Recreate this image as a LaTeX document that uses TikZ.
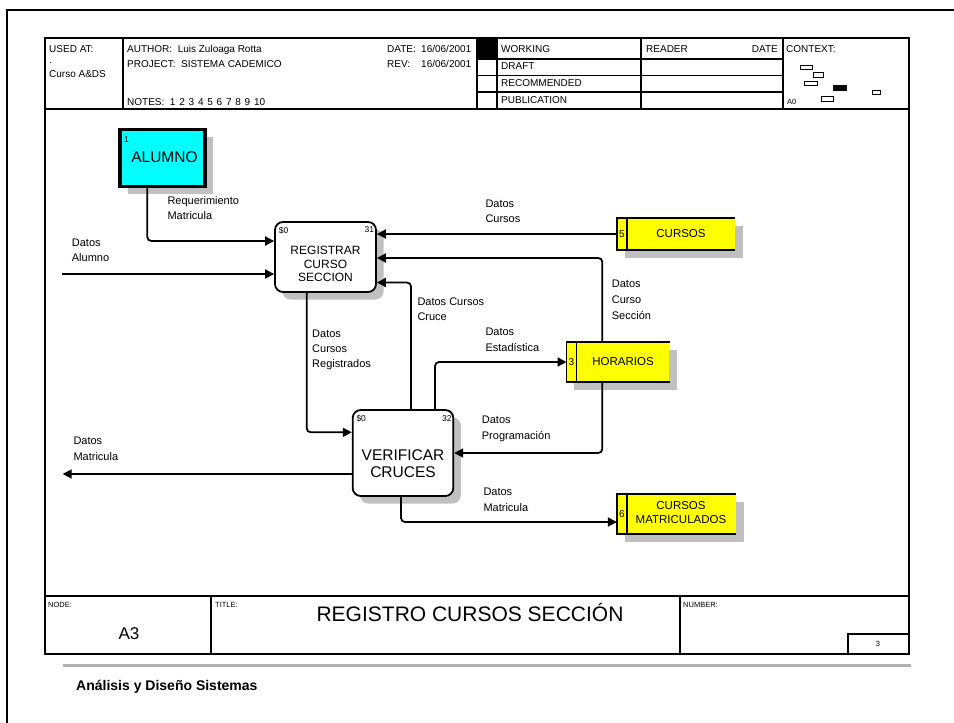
\documentclass[tikz,border=0pt]{standalone}
\usepackage{fontspec}
\setmainfont{Liberation Sans}
\usetikzlibrary{arrows.meta,shadows}
\definecolor{shadowgray}{HTML}{C0C0C0}
\definecolor{footgray}{HTML}{B0B0B0}
\definecolor{extcyan}{HTML}{00FFFF}
\definecolor{storeyellow}{HTML}{FFFF00}
\begin{document}
\begin{tikzpicture}[x=1pt,y=-1pt,
  frm/.style={line width=1.6pt},
  hdr/.style={anchor=base west,inner sep=0pt,font=\fontsize{10}{11}\selectfont},
  tiny/.style={inner sep=0pt,font=\fontsize{7.5}{8}\selectfont},
  corner/.style={inner sep=0pt,font=\fontsize{8.5}{9}\selectfont},
  lbl/.style={anchor=north west,inner sep=0pt,align=left,font=\fontsize{11}{15.5}\selectfont},
  shad/.style={drop shadow={shadow xshift=7.5pt,shadow yshift=-7.5pt,fill=shadowgray,opacity=1}},
  proc/.style={draw,line width=1.8pt,rounded corners=8pt,fill=white,shad},
  ext/.style={draw,line width=3.2pt,fill=extcyan,shad},
  store/.style={fill=storeyellow,inner sep=0pt,shad},
  storeline/.style={line width=1.8pt},
  sname/.style={inner sep=0pt,align=center,font=\fontsize{11.5}{13.4}\selectfont},
  snum/.style={inner sep=0pt,font=\fontsize{10}{12}\selectfont},
  flow/.style={line width=1.8pt,rounded corners=4pt,-{Triangle[length=9pt,width=9pt]}},
]
\useasboundingbox (0,0) rectangle (954,723);

% page frame
\draw[frm] (7,723) -- (7,10) -- (954,10);
\draw[frm] (45,38) rectangle (909,654);

% header block
\draw[frm] (45,109) -- (909,109);
\draw[frm] (123,38) -- (123,109);
\draw[frm] (477,38) -- (477,109);
\draw[frm] (497,38) -- (497,109);
\draw[frm] (641,38) -- (641,109);
\draw[frm] (783,38) -- (783,109);
\draw[frm] (477,59) -- (783,59);
\draw[frm] (477,75.5) -- (783,75.5);
\draw[frm] (477,92) -- (783,92);
\fill (477,38) rectangle (497,59);

\node[hdr] (usedat) at (49,52.3) {USED AT:};
\node[hdr] (dot) at (49,63) {.};
\node[hdr] (cursoad) at (49,77.7) {Curso A\&DS};
\node[hdr] (author) at (127,52.3) {AUTHOR:\ \ Luis Zuloaga Rotta};
\node[hdr] (project) at (127,67.7) {PROJECT:\ \ SISTEMA CADEMICO};
\node[hdr] (notes) at (127,105) {NOTES:\ \ 1\hspace{1pt} 2\hspace{1pt} 3\hspace{1pt} 4\hspace{1pt} 5\hspace{1pt} 6\hspace{1pt} 7\hspace{1pt} 8\hspace{1pt} 9\hspace{1pt} 10};
\node[hdr] (date) at (387,52.3) {DATE:};
\node[hdr] (dateval) at (421,52.3) {16/06/2001};
\node[hdr] (rev) at (387,67.7) {REV:};
\node[hdr] (revval) at (421,67.7) {16/06/2001};
\node[hdr] (working) at (501,52.7) {WORKING};
\node[hdr] (draft) at (501,69) {DRAFT};
\node[hdr] (recom) at (501,86) {RECOMMENDED};
\node[hdr] (public) at (501,103.3) {PUBLICATION};
\node[hdr] (reader) at (646,52.7) {READER};
\node[hdr,anchor=base east] (rdate) at (778,52.7) {DATE};
\node[hdr] (context) at (786,52.7) {CONTEXT:};
\node[hdr,font=\fontsize{7.5}{8}\selectfont] (a0) at (787,104) {A0};

% context thumbnails
\draw[line width=1pt] (800,65) rectangle (812,69);
\draw[line width=1pt] (813,72) rectangle (823,77);
\draw[line width=1pt] (804,81) rectangle (817,85);
\filldraw[line width=1pt] (833,85) rectangle (846,90);
\draw[line width=1pt] (872,90) rectangle (880,94);
\draw[line width=1pt] (821,96) rectangle (833,101);

% title block
\draw[frm] (45,596) -- (909,596);
\draw[frm] (211,596) -- (211,654);
\draw[frm] (680,596) -- (680,654);
\draw[frm] (848,634) rectangle (909,654);
\node[tiny,anchor=base west] (nodelbl) at (48,607) {NODE:};
\node[tiny,anchor=base west] (titlelbl) at (215,607) {TITLE:};
\node[tiny,anchor=base west] (numberlbl) at (683,607) {NUMBER:};
\node[inner sep=0pt,anchor=base,font=\fontsize{17}{20}\selectfont] (a3) at (129,639) {A3};
\node[inner sep=0pt,anchor=base,font=\fontsize{21}{24}\selectfont] (title) at (470,621) {REGISTRO CURSOS SECCIÓN};
\node[tiny] (numval) at (878,644) {3};

% footer
\draw[line width=3.5pt,footgray] (63,665.5) -- (911,665.5);
\node[anchor=base west,inner sep=0pt,font=\bfseries\fontsize{14}{16}\selectfont] (footer) at (76,690) {Análisis y Diseño Sistemas};

% ---- diagram ----
\node[ext,minimum width=85,minimum height=57] (alumno) at (162.5,157.7) {};
\node[inner sep=0pt,anchor=base,font=\fontsize{15.5}{18}\selectfont] (alumnotxt) at (164.5,162.5) {ALUMNO};
\node[corner,anchor=north west] (alumnonum) at (124,136) {1};

\node[proc,minimum width=101,minimum height=70] (registrar) at (325.5,257) {};
\node[inner sep=0pt,align=center,font=\fontsize{12}{13.5}\selectfont] (regtxt) at (325.5,264) {REGISTRAR\\CURSO\\SECCION};
\node[corner,anchor=north west] (reg0) at ([shift={(4.5,5.5)}]registrar.north west) {\$0};
\node[corner,anchor=north east] (regnum) at ([shift={(-2.5,5.5)}]registrar.north east) {31};

\node[proc,minimum width=100.6,minimum height=86] (verificar) at (403,453) {};
\node[inner sep=0pt,align=center,font=\fontsize{15.5}{17.7}\selectfont] (vertxt) at (403,463.7) {VERIFICAR\\CRUCES};
\node[corner,anchor=north west] (ver0) at ([shift={(4.5,6)}]verificar.north west) {\$0};
\node[corner,anchor=north east] (vernum) at ([shift={(-2.5,6)}]verificar.north east) {32};

% stores
\node[store,minimum width=118,minimum height=32] (cursos) at (676,234) {};
\draw[storeline] (cursos.north east) -- (cursos.north west) -- (cursos.south west) -- (cursos.south east);
\draw[storeline] ([shift={(10,0)}]cursos.north west) -- ([shift={(10,0)}]cursos.south west);
\node[snum] (cursosnum) at ([shift={(5,0)}]cursos.west) {5};
\node[sname] (cursostxt) at ([shift={(5,0)}]cursos.center) {CURSOS};

\node[store,minimum width=102.6,minimum height=40] (horarios) at (618,362) {};
\draw[storeline] (horarios.north east) -- (horarios.north west) -- (horarios.south west) -- (horarios.south east);
\draw[storeline] ([shift={(10,0)}]horarios.north west) -- ([shift={(10,0)}]horarios.south west);
\node[snum] (horariosnum) at ([shift={(5,0)}]horarios.west) {3};
\node[sname] (horariostxt) at ([shift={(5,0)}]horarios.center) {HORARIOS};

\node[store,minimum width=119,minimum height=40] (cm) at (676.5,514) {};
\draw[storeline] (cm.north east) -- (cm.north west) -- (cm.south west) -- (cm.south east);
\draw[storeline] ([shift={(10,0)}]cm.north west) -- ([shift={(10,0)}]cm.south west);
\node[snum] (cmnum) at ([shift={(5,0)}]cm.west) {6};
\node[sname] (cmtxt) at (681,512.5) {CURSOS\\MATRICULADOS};

% flows
\coordinate (alumnoIn) at (62,274);
\coordinate (matOut) at (62.7,474);
\draw[flow] ([shift={(-15.2,0)}]alumno.south) |- ([shift={(0,-16)}]registrar.west);
\draw[flow] (alumnoIn) -- (registrar.west |- alumnoIn);
\draw[flow] (cursos.west) -- (registrar.east |- cursos.west);
\draw[flow] ([shift={(-15.7,0)}]horarios.north) |- ([shift={(0,1)}]registrar.east);
\draw[flow] ([shift={(-15.7,0)}]horarios.south) |- (verificar.east);
\draw[flow] ([shift={(8,0)}]verificar.north) |- ([shift={(0,25.5)}]registrar.east);
\draw[flow] ([shift={(32,0)}]verificar.north) |- (horarios.west);
\draw[flow] ([shift={(-18.8,0)}]registrar.south) |- ([shift={(0,-20.7)}]verificar.west);
\draw[flow] ([shift={(0,21)}]verificar.west) -- (matOut);
\draw[flow] ([shift={(-2,0)}]verificar.south) |- ([shift={(0,8)}]cm.west);

% flow labels
\node[lbl,font=\fontsize{11}{15}\selectfont] (lreq) at (167.3,196.4) {Requerimiento\\Matricula};
\node[lbl] (lalumno) at (71.7,238.4) {Datos\\Alumno};
\node[lbl,font=\fontsize{11}{14.5}\selectfont] (lcursos) at (485.3,199.9) {Datos\\Cursos};
\node[lbl,font=\fontsize{11}{16}\selectfont] (lseccion) at (611.7,280.1) {Datos\\Curso\\Sección};
\node[lbl,font=\fontsize{11}{14.5}\selectfont] (lcruce) at (417.3,298.1) {Datos Cursos\\Cruce};
\node[lbl,font=\fontsize{11}{16}\selectfont] (lestad) at (485.3,328.1) {Datos\\Estadística};
\node[lbl,font=\fontsize{11}{15}\selectfont] (lreg) at (312,330) {Datos\\Cursos\\Registrados};
\node[lbl,font=\fontsize{11}{16}\selectfont] (lprog) at (481.7,416.1) {Datos\\Programación};
\node[lbl] (lmatl) at (73.3,436.8) {Datos\\Matricula};
\node[lbl] (lmatb) at (483.3,487.8) {Datos\\Matricula};
\end{tikzpicture}
\end{document}
